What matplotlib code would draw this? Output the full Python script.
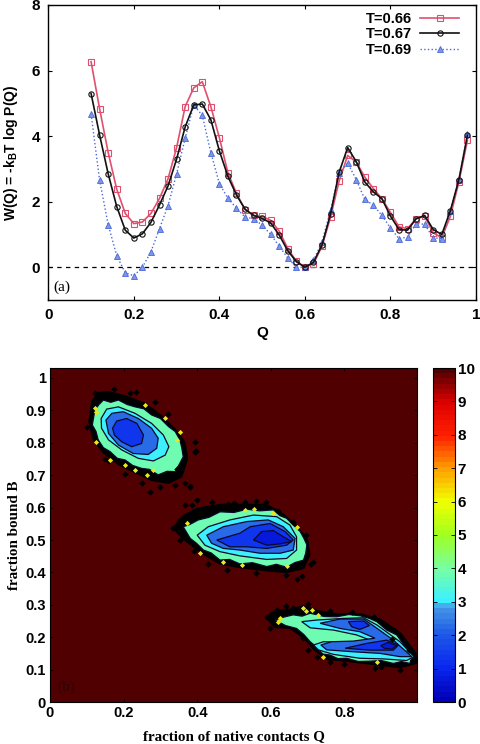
import numpy as np
import matplotlib
matplotlib.use("Agg")
import matplotlib.pyplot as plt
from matplotlib.cm import ScalarMappable
from matplotlib.colors import LinearSegmentedColormap, Normalize

# panel (a): free energy curves
q = [0.10, 0.12, 0.14, 0.16, 0.18, 0.20, 0.22, 0.24, 0.26, 0.28, 0.30, 0.32, 0.34, 0.36, 0.38,
     0.40, 0.42, 0.44, 0.46, 0.48, 0.50, 0.52, 0.54, 0.56, 0.58, 0.60, 0.62, 0.64, 0.66, 0.68,
     0.70, 0.72, 0.74, 0.76, 0.78, 0.80, 0.82, 0.84, 0.86, 0.88, 0.90, 0.92, 0.94, 0.96, 0.98]
w_066 = [6.27, 4.83, 3.50, 2.38, 1.64, 1.33, 1.38, 1.64, 2.10, 2.70, 3.65, 4.90, 5.47, 5.66, 4.90,
         3.95, 2.88, 2.25, 1.76, 1.58, 1.55, 1.43, 1.10, 0.57, 0.18, 0.00, 0.11, 0.64, 1.53, 2.63,
         3.41, 3.21, 2.75, 2.40, 2.09, 1.67, 1.23, 1.18, 1.48, 1.55, 1.05, 0.90, 1.55, 2.60, 3.87]
w_067 = [5.30, 4.03, 2.85, 1.85, 1.13, 0.89, 1.02, 1.37, 1.90, 2.48, 3.30, 4.28, 4.95, 4.98, 4.50,
         3.55, 2.77, 2.20, 1.77, 1.58, 1.49, 1.35, 0.98, 0.50, 0.17, 0.00, 0.15, 0.68, 1.63, 2.90,
         3.65, 3.22, 2.60, 2.30, 2.09, 1.56, 1.15, 1.13, 1.48, 1.58, 1.15, 1.00, 1.72, 2.67, 4.03]
w_069 = [4.68, 2.65, 1.30, 0.35, -0.17, -0.26, 0.00, 0.47, 1.18, 1.88, 2.85, 3.93, 4.95, 4.63, 3.50,
         2.55, 2.10, 1.80, 1.53, 1.48, 1.28, 1.00, 0.64, 0.28, 0.00, 0.00, 0.21, 0.77, 1.74, 2.88,
         3.18, 2.67, 2.07, 1.89, 1.58, 1.20, 0.87, 0.92, 1.33, 1.31, 0.90, 0.87, 1.72, 2.67, 4.07]

# panel (b): contour outlines, (Q, B) pairs
b1_outer = [(.113,.927),(.131,.955),(.158,.958),(.204,.945),(.258,.922),(.303,.884),(.340,.842),(.366,.803),(.374,.752),
            (.358,.695),(.322,.675),(.276,.684),(.231,.708),(.186,.733),(.145,.769),(.118,.809),(.106,.865)]
b1_green = [(.122,.901),(.133,.918),(.145,.932),(.165,.925),(.186,.932),(.210,.918),(.231,.911),(.255,.905),(.276,.886),(.300,.875),(.322,.850),
            (.340,.835),(.353,.809),(.358,.785),(.362,.757),(.352,.735),(.340,.711),(.318,.712),(.294,.701),(.270,.718),(.249,.721),(.225,.730),(.204,.747),
            (.183,.752),(.163,.773),(.145,.785),(.131,.809),(.125,.835),(.115,.855)]
b1_cyan = [(.139,.875),(.154,.904),(.186,.911),(.231,.891),(.276,.860),(.308,.824),(.323,.788),(.313,.762),
           (.281,.744),(.240,.752),(.195,.778),(.159,.809),(.140,.845)]
b1_mid = [(.152,.870),(.168,.891),(.199,.896),(.240,.875),(.276,.845),(.294,.814),(.290,.783),(.267,.764),
          (.226,.767),(.186,.793),(.159,.829)]
b1_in = [(.170,.845),(.181,.867),(.208,.875),(.236,.860),(.254,.824),(.249,.798),(.222,.788),(.195,.803),(.175,.824)]

b2_outer = [(.335,.536),(.358,.572),(.399,.598),(.467,.610),(.535,.610),(.589,.610),(.634,.580),(.670,.544),(.700,.500),
            (.706,.454),(.689,.412),(.643,.400),(.589,.405),(.516,.415),(.462,.426),(.417,.456),(.365,.500)]
b2_green = [(.362,.541),(.380,.548),(.403,.562),(.432,.570),(.462,.587),(.500,.585),(.535,.595),(.570,.590),(.607,.593),(.625,.575),(.643,.567),
            (.662,.545),(.680,.526),(.690,.505),(.698,.485),(.695,.460),(.689,.438),(.665,.430),(.643,.416),(.615,.425),(.589,.418),(.550,.430),
            (.516,.426),(.488,.440),(.462,.438),(.438,.460),(.417,.469),(.398,.490),(.381,.505)]
b2_cyan = [(.400,.515),(.430,.541),(.489,.562),(.553,.577),(.616,.572),(.652,.546),(.670,.510),(.670,.469),
           (.643,.443),(.589,.440),(.516,.451),(.462,.464),(.421,.484)]
b2_mid = [(.426,.515),(.471,.541),(.535,.557),(.593,.562),(.634,.541),(.666,.505),(.661,.469),(.625,.459),
          (.571,.459),(.516,.469),(.471,.474),(.439,.490)]
b2_in = [(.453,.500),(.516,.521),(.544,.541),(.598,.551),(.639,.526),(.661,.500),(.643,.484),(.589,.474),(.534,.479),(.489,.479)]
b2_deep = [(.553,.500),(.575,.526),(.607,.529),(.634,.510),(.657,.495),(.625,.488),(.589,.484)]

b3_outer = [(.587,.263),(.611,.282),(.657,.287),(.688,.297),(.729,.282),(.779,.272),(.843,.272),(.897,.256),(.951,.215),
            (.995,.150),(.995,.119),(.951,.106),(.879,.116),(.806,.126),(.752,.132),(.718,.161),(.690,.197),(.652,.228),(.610,.230)]
b3_green = [(.611,.253),(.635,.262),(.661,.269),(.685,.265),(.707,.274),(.745,.264),(.779,.263),(.812,.270),(.843,.266),(.868,.258),(.888,.248),(.915,.222),
            (.942,.207),(.965,.172),(.987,.140),(.980,.128),(.978,.119),(.955,.125),(.933,.119),(.900,.128),(.870,.126),(.838,.125),(.806,.135),(.782,.134),(.761,.145),
            (.742,.148),(.729,.161),(.722,.172),(.707,.186),(.690,.208),(.670,.227),(.640,.236)]
b3_cyan = [(.684,.248),(.725,.253),(.797,.258),(.852,.260),(.888,.238),(.951,.186),(.989,.140),(.969,.128),(.906,.133),
           (.842,.135),(.770,.147),(.729,.161),(.716,.176),(.743,.186),(.806,.184),(.870,.191),(.833,.207),(.770,.222),(.707,.229)]
b3_mid = [(.734,.243),(.788,.256),(.852,.256),(.883,.232),(.933,.191),(.983,.140),(.951,.140),(.897,.150),(.824,.155),
          (.752,.161),(.736,.176),(.765,.186),(.824,.188),(.883,.197),(.842,.217),(.788,.227)]
b3_in_up = [(.811,.248),(.852,.250),(.868,.236),(.842,.224),(.820,.232)]
b3_in_low = [(.802,.166),(.861,.181),(.915,.191),(.947,.176),(.933,.160),(.870,.160)]
b3_deep = [(.899,.174),(.919,.184),(.942,.174),(.928,.163),(.908,.166)]

# value of each filled region, drawn outermost first
regions = [(6.0, b1_outer), (3.8, b1_green), (3.1, b1_cyan), (2.3, b1_mid), (1.3, b1_in),
           (6.0, b2_outer), (3.8, b2_green), (3.1, b2_cyan), (2.3, b2_mid), (1.3, b2_in), (0.7, b2_deep),
           (6.0, b3_outer), (3.8, b3_green), (3.1, b3_cyan), (2.3, b3_mid), (1.3, b3_in_up), (1.3, b3_in_low), (0.7, b3_deep)]

yellow_q = [.122, .126, .258, .353, .204, .231, .263, .124, .163, .281, .344, .312,
            .371, .530, .553, .607, .670, .408, .471, .521, .643,
            .620, .625, .688, .696, .711, .729, .743, .888]
yellow_b = [.906, .896, .917, .834, .731, .716, .700, .803, .747, .716, .809, .875,
            .551, .593, .595, .584, .541, .459, .433, .423, .420,
            .248, .258, .289, .282, .284, .269, .140, .124]
speck_q = [.217, .235, .394, .367, .380, .394, .340, .272, .380, .397, .100, .122, .175, .150, .285, .320, .345, .300, .250, .205, .160,
           .399, .367, .385, .335, .670, .686, .716, .587, .485, .530, .353, .350, .440, .500, .560, .620, .660, .695, .710, .640, .560, .480, .430, .390,
           .589, .598, .616, .661, .688, .725, .883, .951, .640, .700, .760, .820, .880, .930, .975, .900, .800, .760, .700]
speck_b = [.953, .956, .803, .675, .667, .773, .670, .649, .664, .775, .850, .955, .965, .750, .925, .890, .720, .665, .675, .705, .745,
           .623, .608, .608, .536, .379, .389, .433, .618, .611, .618, .500, .560, .618, .615, .620, .590, .555, .515, .425, .392, .398, .408, .425, .465,
           .263, .227, .284, .289, .197, .140, .104, .099, .295, .302, .280, .278, .262, .195, .160, .108, .118, .125, .160]

cbar_stops = [(0.0, "#0000b4"), (0.1, "#0a28f0"), (0.2, "#1e5ae6"), (0.28, "#4696e6"), (0.30, "#3cf0ff"),
              (0.40, "#78ffa0"), (0.50, "#a0ff20"), (0.60, "#f0ff00"), (0.70, "#ffa000"), (0.80, "#ff2000"),
              (0.90, "#e00000"), (1.0, "#500000")]

sans = ["Liberation Sans", "DejaVu Sans"]
serif = ["Liberation Serif", "DejaVu Serif"]
plt.rcParams["font.family"] = sans
plt.rcParams["font.weight"] = "bold"
plt.rcParams["mathtext.default"] = "regular"

W, H = 480, 744
fig = plt.figure(figsize=(4.8, 7.44), dpi=100)

# (a)
ax = fig.add_axes([48.3 / W, 1 - 300 / H, (476 - 48.3) / W, (300 - 5) / H])
ax.axhline(0, color="black", lw=0.9, ls=(0, (3.5, 3.5)))
ax.plot(q, w_066, color="#e0506e", lw=1.2, marker="s", ms=3.8, mfc="none", mew=0.8, label="T=0.66")
ax.plot(q, w_069, color="#4a68d8", lw=1.0, ls=":", marker="^", ms=4.5, mfc="#7f95e8", mew=0.6, label="T=0.69", zorder=2.5)
ax.plot(q, w_067, color="#111111", lw=1.2, marker="o", ms=3.8, mfc="none", mew=0.8, label="T=0.67", zorder=3)
ax.set_xlim(0, 1)
ax.set_ylim(-1, 8)
ax.set_xticks([0, 0.2, 0.4, 0.6, 0.8, 1])
ax.set_xticklabels(["0", "0.2", "0.4", "0.6", "0.8", "1"])
ax.set_yticks([0, 2, 4, 6, 8])
ax.tick_params(direction="in", top=True, right=True, length=3, width=0.8, labelsize=11, pad=6)
ax.set_xlabel("Q", fontsize=11, fontweight="bold", labelpad=3)
ax.set_ylabel(r"W(Q) = -k$_{\mathregular{B}}$T log P(Q)", fontsize=10, fontweight="bold", labelpad=8)
for s in ax.spines.values():
    s.set_linewidth(1.0)
ax.text(0.012, -0.62, "(a)", family=serif, fontweight="normal", fontsize=11, va="center")
handles, labels = ax.get_legend_handles_labels()
order = [0, 2, 1]
ax.legend([handles[i] for i in order], [labels[i] for i in order], loc="upper right", frameon=False,
          markerfirst=False, fontsize=10.5, labelspacing=0.08, handlelength=2.67, handletextpad=0.6,
          borderaxespad=0.1, bbox_to_anchor=(0.978, 1.0))

# (b)
anchors = [s[0] for s in cbar_stops]
cmap = LinearSegmentedColormap.from_list("fes", [(a, s[1]) for a, s in zip(anchors, cbar_stops)], N=64)
norm = Normalize(0, 10)

ax2 = fig.add_axes([50 / W, 1 - 702 / H, (417 - 50) / W, (702 - 368) / H])
ax2.set_facecolor(cmap(norm(10)))
for level, outline in regions:
    pts = np.array(outline)
    if level == 6.0:
        ax2.fill(pts[:, 0], pts[:, 1], facecolor="black", edgecolor="black", lw=1.0)
    else:
        ax2.fill(pts[:, 0], pts[:, 1], facecolor=cmap(norm(level)), edgecolor="#0a0a28", lw=0.9)
ax2.scatter(speck_q, speck_b, marker="D", s=11, color="black", lw=0, zorder=4)
ax2.scatter(yellow_q, yellow_b, marker="D", s=7, color="#e8e820", lw=0, zorder=4)
ax2.set_xlim(0, 367 / 368)
ax2.set_ylim(0, 334 / 324)
ax2.set_xticks([0, 0.2, 0.4, 0.6, 0.8])
ax2.set_xticklabels(["0", "0.2", "0.4", "0.6", "0.8"])
ax2.set_yticks([0, .1, .2, .3, .4, .5, .6, .7, .8, .9, 1])
ax2.set_yticklabels(["0", "0.1", "0.2", "0.3", "0.4", "0.5", "0.6", "0.7", "0.8", "0.9", "1"])
ax2.tick_params(direction="in", top=True, right=True, length=2.5, width=0.6, labelsize=10.5, pad=3)
ax2.set_xlabel("fraction of native contacts Q", family=serif, fontsize=10.8, fontweight="bold", labelpad=7)
ax2.set_ylabel("fraction bound B", family=serif, fontsize=10.8, fontweight="bold", labelpad=3)
ax2.text(0.02, 0.045, "(b)", family=serif, fontweight="normal", fontsize=11, color="#2a0505", va="center")

cax = fig.add_axes([433 / W, 1 - 702 / H, 22 / W, (702 - 368) / H])
cb = fig.colorbar(ScalarMappable(norm=norm, cmap=cmap), cax=cax)
cb.set_ticks(range(0, 11))
cb.ax.tick_params(direction="in", length=3, width=0.6, labelsize=11, pad=2, left=True)

fig.savefig("out.png", dpi=100)
